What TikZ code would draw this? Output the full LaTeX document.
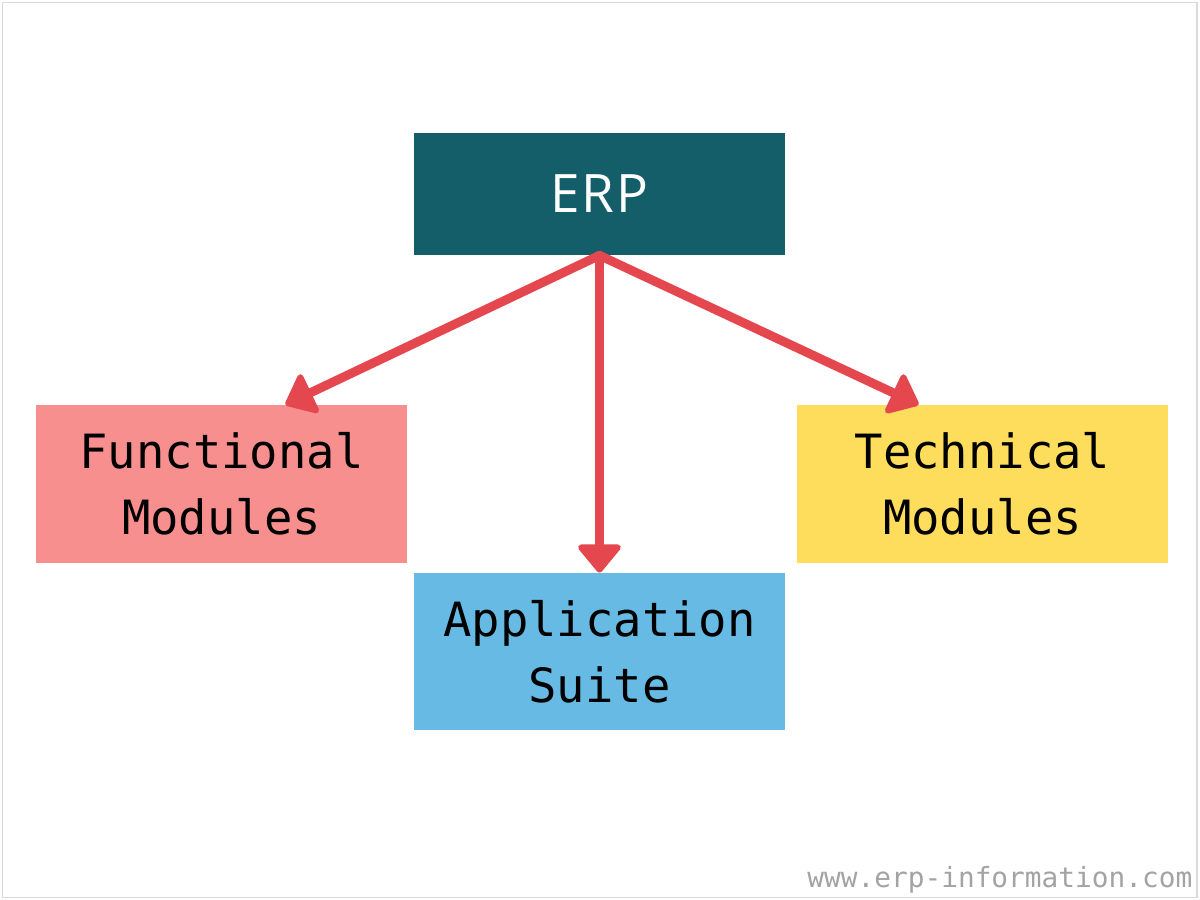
\documentclass[tikz,border=0pt]{standalone}
\usepackage{fontspec}
\setmainfont{Open Sans}
\newfontfamily\boxmono{DejaVu Sans Mono}
\newfontfamily\erpfont[LetterSpace=3]{Open Sans}
\usetikzlibrary{arrows.meta}
\definecolor{erpteal}{HTML}{135E69}
\definecolor{funcpink}{HTML}{F78F8E}
\definecolor{appblue}{HTML}{67BAE3}
\definecolor{techyellow}{HTML}{FFDD5C}
\definecolor{arrred}{HTML}{E5474F}
\definecolor{framegray}{HTML}{DADADA}
\definecolor{markgray}{HTML}{A3A3A3}
\tikzset{
  box/.style={draw=none, inner sep=0pt, minimum width=185.5pt, minimum height=79pt, align=center, text=black,
    font=\boxmono\fontsize{23.6}{33}\selectfont},
  arr/.style={draw=arrred, line width=4.5pt, line cap=round,
    -{Triangle[length=15pt,width=24pt,round,line width=3pt]}},
}
\begin{document}
\begin{tikzpicture}[x=0.5pt,y=-0.5pt]
\useasboundingbox (0,0) rectangle (1200,900);
\draw[framegray, line width=0.7pt] (2.5,2.5) rectangle (1197,897.5);
\node[box, fill=erpteal, minimum height=61pt, text=white, font=\erpfont\fontsize{26.5}{28}\selectfont] (erp) at (599.5,194) {ERP};
\node[box, fill=funcpink] (func) at (221.5,484) {Functional\\Modules};
\node[box, fill=appblue, minimum height=78.5pt] (app) at (599.5,651.5) {Application\\Suite};
\node[box, fill=techyellow] (tech) at (982.5,484) {Technical\\Modules};
\draw[arr] (erp.south) -- ([xshift=32pt]func.north);
\draw[arr] (erp.south) -- (app.north);
\draw[arr] (erp.south) -- ([xshift=-32pt]tech.north);
\node[anchor=base west, inner sep=0pt, text=markgray, font=\boxmono\fontsize{13.9}{16}\selectfont] (mark) at (807,887) {www.erp-information.com};
\end{tikzpicture}
\end{document}
